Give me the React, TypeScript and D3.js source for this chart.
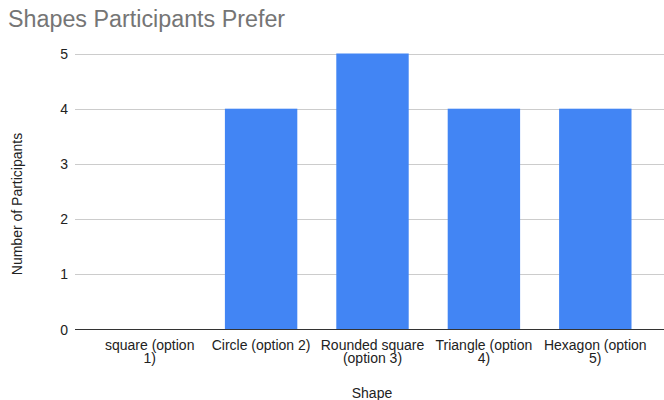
import React from "react";
import * as d3 from "d3";

const title = "Shapes Participants Prefer";
const categories = [
  "square (option 1)",
  "Circle (option 2)",
  "Rounded square (option 3)",
  "Triangle (option 4)",
  "Hexagon (option 5)",
];
const values = [0, 4, 5, 4, 4];
const yTicks = [0, 1, 2, 3, 4, 5];
const xTitle = "Shape";
const yTitle = "Number of Participants";

const FONT = "'Liberation Sans', Arial, sans-serif";

function wrap(text: string, maxW: number, font: string): string[] {
  const c = document.createElement("canvas").getContext("2d")!;
  c.font = font;
  const words = text.split(" ");
  const lines: string[] = [];
  let cur = "";
  for (const w of words) {
    const t = cur ? cur + " " + w : w;
    if (c.measureText(t).width > maxW && cur) {
      lines.push(cur);
      cur = w;
    } else cur = t;
  }
  if (cur) lines.push(cur);
  return lines;
}

export default function App() {
  const W = 664, H = 400;
  const x = d3.scaleBand<string>().domain(categories).range([94, 651]).paddingInner(0.35).paddingOuter(0.175);
  const y = d3.scaleLinear().domain([0, 5]).range([329.5, 53.5]);
  return (
    <svg width={W} height={H} style={{ position: "absolute", left: 0, top: 0, fontFamily: FONT }}>
      <rect width={W} height={H} fill="#fff" />
      <text x={8} y={27} fontSize={23.3} fill="#757575">{title}</text>
      {yTicks.map((t) => (
        <g key={t}>
          {t !== 0 && <line x1={75} x2={664} y1={Math.round(y(t)) + 0.5} y2={Math.round(y(t)) + 0.5} stroke="#cccccc" />}
          <text x={68} y={y(t) + 5} fontSize={14} textAnchor="end" fill="#222">{t}</text>
        </g>
      ))}
      {categories.map((c, i) => (
        <rect key={c} x={x(c)} width={x.bandwidth()} y={y(values[i])} height={y(0) - y(values[i])} fill="#4285f4" />
      ))}
      <line x1={75} x2={664} y1={329.5} y2={329.5} stroke="#333" />
      {categories.map((c) => {
        const lines = wrap(c, 104, `14px 'Liberation Sans'`);
        return (
          <text key={c} textAnchor="middle" fontSize={14} fill="#222">
            {lines.map((l, j) => (
              <tspan key={j} x={x(c)! + x.bandwidth() / 2} y={350 + j * 12.5}>{l}</tspan>
            ))}
          </text>
        );
      })}
      <text x={372} y={398} fontSize={14} textAnchor="middle" fill="#222">{xTitle}</text>
      <text transform={`translate(22,204) rotate(-90)`} fontSize={14} textAnchor="middle" fill="#222">{yTitle}</text>
    </svg>
  );
}
